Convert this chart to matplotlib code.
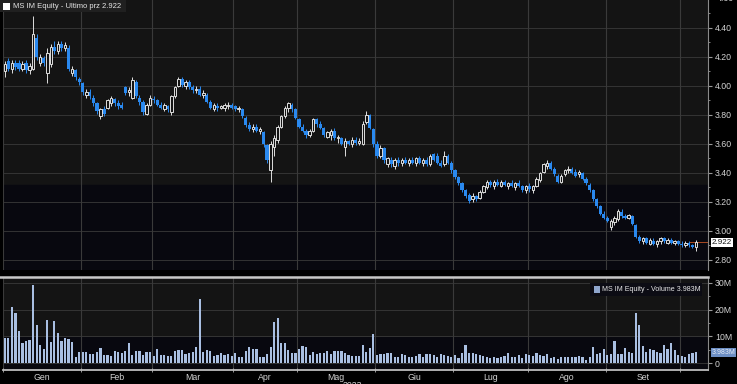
import numpy as np
import pandas as pd
import matplotlib
matplotlib.use('Agg')
import matplotlib.pyplot as plt
import matplotlib.transforms as mtransforms
from matplotlib.lines import Line2D
from matplotlib.patches import Rectangle

plt.rcParams['font.family'] = ['Liberation Sans', 'DejaVu Sans']

# MS IM Equity, daily candles Jan - early Oct 2023
months = ['Gen', 'Feb', 'Mar', 'Apr', 'Mag', 'Giu', 'Lug', 'Ago', 'Set']
holidays = ['2023-04-07', '2023-04-10', '2023-05-01', '2023-08-15']

opens = [4.10, 4.17, 4.12, 4.16, 4.16, 4.12, 4.16, 4.11, 4.12, 4.33,
         4.16, 4.19, 4.09, 4.15, 4.27, 4.24, 4.29, 4.26, 4.26, 4.09,
         4.11, 4.05, 4.02, 3.94, 3.96, 3.92, 3.88, 3.79, 3.84, 3.85,
         3.88, 3.91, 3.88, 3.87, 3.99, 3.96, 3.92, 4.03, 3.92, 3.89,
         3.81, 3.87, 3.91, 3.90, 3.87, 3.84, 3.86, 3.82, 3.93, 4.00,
         4.05, 4.00, 4.03, 3.99, 3.97, 3.98, 3.94, 3.94, 3.89, 3.84,
         3.86, 3.85, 3.85, 3.86, 3.87, 3.86, 3.84, 3.84, 3.78, 3.73,
         3.70, 3.72, 3.69, 3.68, 3.59, 3.42, 3.58, 3.63, 3.72, 3.79,
         3.85, 3.87, 3.84, 3.77, 3.72, 3.69, 3.66, 3.69, 3.77, 3.74,
         3.71, 3.65, 3.66, 3.69, 3.64, 3.64, 3.58, 3.62, 3.60, 3.63,
         3.61, 3.60, 3.75, 3.80, 3.70, 3.60, 3.52, 3.57, 3.46, 3.49,
         3.45, 3.49, 3.47, 3.49, 3.47, 3.49, 3.47, 3.50, 3.47, 3.49,
         3.46, 3.53, 3.52, 3.47, 3.46, 3.52, 3.47, 3.42, 3.37, 3.33,
         3.28, 3.25, 3.22, 3.24, 3.23, 3.27, 3.30, 3.34, 3.31, 3.34,
         3.31, 3.34, 3.31, 3.33, 3.30, 3.33, 3.31, 3.28, 3.31, 3.28,
         3.31, 3.35, 3.41, 3.45, 3.47, 3.43, 3.38, 3.34, 3.39, 3.42,
         3.43, 3.41, 3.39, 3.40, 3.36, 3.32, 3.28, 3.22, 3.17, 3.12,
         3.09, 3.03, 3.06, 3.08, 3.13, 3.10, 3.09, 3.10, 3.04, 2.96,
         2.93, 2.95, 2.91, 2.93, 2.91, 2.93, 2.95, 2.92, 2.94, 2.92,
         2.93, 2.91, 2.90, 2.92, 2.90, 2.89]

highs = [4.17, 4.19, 4.18, 4.18, 4.18, 4.17, 4.18, 4.16, 4.48, 4.36,
         4.22, 4.21, 4.26, 4.29, 4.31, 4.31, 4.31, 4.30, 4.28, 4.14,
         4.12, 4.06, 4.03, 3.98, 3.98, 3.94, 3.89, 3.85, 3.86, 3.91,
         3.93, 3.92, 3.90, 3.89, 4.00, 3.99, 4.06, 4.04, 3.94, 3.90,
         3.88, 3.94, 3.93, 3.91, 3.89, 3.88, 3.87, 3.94, 4.00, 4.06,
         4.06, 4.04, 4.04, 4.01, 4.00, 4.00, 3.97, 3.95, 3.90, 3.88,
         3.88, 3.87, 3.88, 3.89, 3.88, 3.87, 3.86, 3.85, 3.79, 3.75,
         3.74, 3.74, 3.72, 3.69, 3.60, 3.62, 3.66, 3.73, 3.80, 3.86,
         3.89, 3.88, 3.85, 3.78, 3.74, 3.70, 3.70, 3.78, 3.78, 3.76,
         3.72, 3.69, 3.70, 3.71, 3.66, 3.65, 3.64, 3.63, 3.65, 3.65,
         3.64, 3.76, 3.83, 3.81, 3.71, 3.62, 3.59, 3.58, 3.51, 3.51,
         3.50, 3.51, 3.50, 3.51, 3.50, 3.51, 3.51, 3.52, 3.50, 3.51,
         3.53, 3.54, 3.54, 3.49, 3.55, 3.53, 3.48, 3.43, 3.38, 3.34,
         3.29, 3.26, 3.26, 3.25, 3.28, 3.32, 3.35, 3.35, 3.35, 3.36,
         3.35, 3.35, 3.34, 3.35, 3.34, 3.35, 3.32, 3.32, 3.33, 3.32,
         3.37, 3.41, 3.47, 3.49, 3.48, 3.44, 3.39, 3.39, 3.43, 3.45,
         3.44, 3.43, 3.42, 3.41, 3.37, 3.33, 3.29, 3.23, 3.18, 3.14,
         3.10, 3.08, 3.10, 3.15, 3.15, 3.12, 3.12, 3.11, 3.05, 2.97,
         2.96, 2.96, 2.95, 2.95, 2.94, 2.96, 2.96, 2.95, 2.95, 2.94,
         2.94, 2.93, 2.93, 2.93, 2.91, 2.94]

lows = [4.06, 4.10, 4.09, 4.11, 4.10, 4.10, 4.09, 4.08, 4.11, 4.18,
        4.14, 4.14, 4.02, 4.13, 4.22, 4.22, 4.24, 4.24, 4.10, 4.07,
        4.04, 4.01, 3.94, 3.92, 3.91, 3.86, 3.81, 3.77, 3.79, 3.84,
        3.86, 3.86, 3.84, 3.84, 3.94, 3.93, 3.91, 3.92, 3.87, 3.80,
        3.80, 3.86, 3.88, 3.86, 3.84, 3.83, 3.82, 3.80, 3.92, 3.99,
        3.99, 3.98, 3.98, 3.95, 3.95, 3.93, 3.92, 3.88, 3.84, 3.83,
        3.83, 3.84, 3.83, 3.84, 3.84, 3.83, 3.82, 3.78, 3.72, 3.69,
        3.68, 3.68, 3.67, 3.58, 3.47, 3.34, 3.52, 3.61, 3.71, 3.78,
        3.82, 3.82, 3.77, 3.71, 3.68, 3.64, 3.65, 3.68, 3.72, 3.70,
        3.65, 3.64, 3.63, 3.63, 3.61, 3.59, 3.52, 3.59, 3.58, 3.59,
        3.59, 3.59, 3.74, 3.70, 3.58, 3.50, 3.50, 3.47, 3.44, 3.44,
        3.43, 3.45, 3.45, 3.46, 3.45, 3.46, 3.45, 3.46, 3.45, 3.45,
        3.45, 3.48, 3.46, 3.44, 3.45, 3.46, 3.40, 3.36, 3.32, 3.27,
        3.23, 3.19, 3.20, 3.21, 3.22, 3.26, 3.29, 3.30, 3.29, 3.31,
        3.30, 3.31, 3.29, 3.30, 3.28, 3.30, 3.27, 3.26, 3.27, 3.26,
        3.30, 3.34, 3.40, 3.43, 3.42, 3.38, 3.33, 3.33, 3.38, 3.40,
        3.39, 3.37, 3.37, 3.35, 3.32, 3.27, 3.21, 3.16, 3.11, 3.08,
        3.06, 3.01, 3.04, 3.07, 3.09, 3.08, 3.08, 3.04, 2.95, 2.92,
        2.91, 2.91, 2.90, 2.90, 2.89, 2.91, 2.92, 2.91, 2.91, 2.90,
        2.90, 2.89, 2.89, 2.89, 2.88, 2.86]

closes = [4.15, 4.12, 4.16, 4.13, 4.12, 4.15, 4.11, 4.14, 4.36, 4.20,
          4.20, 4.16, 4.23, 4.27, 4.24, 4.29, 4.26, 4.28, 4.12, 4.12,
          4.06, 4.03, 3.96, 3.96, 3.93, 3.88, 3.83, 3.84, 3.81, 3.90,
          3.92, 3.88, 3.86, 3.85, 3.95, 3.97, 4.04, 3.93, 3.89, 3.82,
          3.87, 3.92, 3.90, 3.87, 3.85, 3.87, 3.84, 3.93, 3.99, 4.05,
          4.01, 4.03, 3.99, 3.97, 3.98, 3.94, 3.95, 3.89, 3.85, 3.87,
          3.85, 3.86, 3.87, 3.87, 3.85, 3.84, 3.85, 3.79, 3.73, 3.70,
          3.72, 3.69, 3.70, 3.60, 3.49, 3.60, 3.64, 3.72, 3.79, 3.85,
          3.88, 3.84, 3.78, 3.72, 3.69, 3.66, 3.69, 3.77, 3.74, 3.71,
          3.66, 3.68, 3.69, 3.64, 3.65, 3.60, 3.62, 3.60, 3.63, 3.61,
          3.62, 3.74, 3.80, 3.71, 3.60, 3.52, 3.57, 3.49, 3.50, 3.46,
          3.49, 3.47, 3.49, 3.47, 3.49, 3.47, 3.50, 3.47, 3.49, 3.46,
          3.52, 3.49, 3.47, 3.45, 3.52, 3.47, 3.42, 3.37, 3.33, 3.28,
          3.24, 3.21, 3.24, 3.22, 3.27, 3.31, 3.34, 3.32, 3.34, 3.32,
          3.34, 3.32, 3.33, 3.31, 3.33, 3.31, 3.28, 3.31, 3.29, 3.31,
          3.36, 3.40, 3.46, 3.47, 3.43, 3.39, 3.34, 3.38, 3.42, 3.43,
          3.40, 3.38, 3.41, 3.36, 3.33, 3.28, 3.22, 3.17, 3.12, 3.09,
          3.07, 3.07, 3.09, 3.14, 3.10, 3.09, 3.11, 3.05, 2.96, 2.93,
          2.95, 2.92, 2.94, 2.91, 2.93, 2.95, 2.93, 2.94, 2.92, 2.93,
          2.91, 2.90, 2.92, 2.90, 2.89, 2.922]

# volume in millions of shares
volume = [9.2, 9.2, 21.1, 18.6, 12.1, 7.4, 8.2, 8.6, 29.0, 14.1,
          6.6, 5.2, 16.1, 8.0, 15.7, 11.1, 8.4, 9.2, 9.0, 8.0,
          2.1, 4.2, 4.2, 4.2, 3.2, 3.4, 4.1, 5.7, 3.1, 3.1,
          2.6, 4.4, 4.1, 3.6, 4.5, 7.4, 2.9, 4.6, 4.5, 2.9,
          4.1, 4.1, 2.8, 5.2, 3.1, 2.9, 2.6, 2.5, 4.6, 4.7,
          4.7, 3.2, 3.6, 4.1, 5.9, 24.1, 4.2, 4.9, 4.6, 2.6,
          3.1, 3.6, 2.9, 3.2, 2.6, 3.6, 2.4, 2.4, 4.6, 6.1,
          5.1, 5.1, 2.1, 2.2, 3.2, 5.9, 15.5, 16.7, 7.6, 7.6,
          4.9, 3.6, 3.6, 5.2, 6.4, 6.1, 2.9, 4.1, 3.4, 3.9,
          3.6, 4.6, 3.4, 4.4, 4.4, 4.4, 3.6, 3.1, 2.5, 2.5,
          2.5, 6.6, 4.2, 5.5, 10.7, 3.0, 3.4, 3.4, 3.9, 3.6,
          2.4, 2.1, 3.4, 3.0, 2.4, 2.1, 2.6, 3.4, 2.4,
          3.4, 3.4, 3.0, 2.1, 3.4, 3.0, 2.6, 2.1, 3.0, 1.8,
          3.6, 6.6, 3.6, 3.9, 3.4, 3.1, 2.6, 2.1, 2.0,
          2.1, 2.0, 2.1, 2.6, 3.9, 2.1, 2.1, 2.9, 2.0, 3.4,
          2.9, 2.6, 3.6, 3.0, 2.6, 3.4, 1.8, 2.4, 1.4, 2.4,
          2.1, 2.1, 2.4, 2.1, 2.6, 2.1, 1.1, 2.4, 6.1, 3.4,
          3.6, 5.2, 3.0, 3.4, 8.1, 3.4, 3.4, 5.5, 4.2, 3.6,
          18.6, 14.3, 6.4, 4.2, 5.2, 4.9, 4.2, 3.6, 6.6, 5.1,
          7.6, 4.9, 3.0, 2.7, 2.1, 3.4, 3.6, 3.983]

price_ticks = [2.80, 3.00, 3.20, 3.40, 3.60, 3.80, 4.00, 4.20, 4.40]
vol_ticks = [0, 10, 20, 30]
vol_labels = ['0', '10M', '20M', '30M']

# trading days on Borsa Italiana
days = pd.bdate_range('2023-01-02', '2023-10-06')
days = days[~days.isin(pd.to_datetime(holidays))]
x = np.arange(len(days))

o = np.array(opens)
h = np.array(highs)
l = np.array(lows)
c = np.array(closes)
v = np.array(volume)
up = c >= o

# month boundaries and label positions
month_no = days.month.values
starts = [x[month_no == m][0] for m in range(1, 11)]
centers = [x[month_no == m].mean() for m in range(1, 10)]

BLUE = '#2a89ef'
WHITE = '#dedede'
GRID = '#3a3a3a'
TXT = '#d2d2d2'
W, H = 737, 384

fig = plt.figure(figsize=(W / 100, H / 100), dpi=100, facecolor='black')
ax = fig.add_axes([3 / W, 1 - 270 / H, 705 / W, 270 / H])
axv = fig.add_axes([3 / W, 14 / H, 705 / W, 92 / H])

xmin, xmax = -0.5, 198.4

# price panel
ax.set_facecolor('#141414')
ax.axhspan(2.5, 3.317, color='#08080f', zorder=0)
for p in price_ticks:
    ax.axhline(p, color=GRID, lw=0.6, zorder=1)
for s in starts:
    ax.axvline(s - 0.5, color=GRID, lw=0.8, zorder=1)

ax.vlines(x[up], l[up], h[up], color=WHITE, lw=0.7, zorder=2)
ax.vlines(x[~up], l[~up], h[~up], color=BLUE, lw=0.7, zorder=2)
ax.bar(x[~up], (o - c)[~up], bottom=c[~up], width=0.9, color=BLUE, zorder=3)
ax.bar(x[up], np.maximum((c - o)[up], 0.006), bottom=o[up], width=0.7,
       facecolor='#141414', edgecolor=WHITE, lw=0.7, zorder=3)
ax.axhline(closes[-1], xmin=0.975, color='#a84a22', lw=0.7, zorder=1)

ax.set_xlim(xmin, xmax)
ax.set_ylim(2.731, 4.593)
ax.yaxis.tick_right()
ax.set_yticks(price_ticks)
ax.set_yticklabels(['%.2f' % p for p in price_ticks])
ax.set_yticks(np.arange(2.8, 4.6, 0.1), minor=True)
ax.tick_params(axis='y', which='major', colors='#9a9a9a', labelcolor=TXT,
               labelsize=6.3, length=3, width=0.8, pad=2)
ax.tick_params(axis='y', which='minor', colors='#9a9a9a', length=1.5, width=0.6)
ax.set_xticks([])
for side in ['top', 'left', 'bottom']:
    ax.spines[side].set_visible(False)
ax.spines['right'].set_color('#8a8a8a')
ax.spines['right'].set_linewidth(0.8)

tr = mtransforms.blended_transform_factory(ax.transAxes, ax.transData)
ax.text(1.012, 4.60, '4.60', transform=tr, fontsize=6.3, color=TXT,
        va='center', ha='left', clip_on=False)
ax.text(1.005, closes[-1], '%.3f' % closes[-1], transform=tr, fontsize=5.8,
        color='#111111', va='center', ha='left', clip_on=False,
        bbox=dict(boxstyle='square,pad=0.12', facecolor='white', edgecolor='none'))

# volume panel
axv.set_facecolor('#141414')
axv.axhspan(-5, 9.6, color='#08080f', zorder=0)
for t in vol_ticks:
    axv.axhline(t, color=GRID, lw=0.6, zorder=1)
for s in starts:
    axv.axvline(s - 0.5, color=GRID, lw=0.8, zorder=1)
axv.bar(x, v, width=0.62, color='#a9bfe2', zorder=3)

axv.set_xlim(xmin, xmax)
axv.set_ylim(-2.6, 31.8)
axv.yaxis.tick_right()
axv.set_yticks(vol_ticks)
axv.set_yticklabels(vol_labels)
axv.set_yticks([5, 15, 25], minor=True)
axv.tick_params(axis='y', which='major', colors='#9a9a9a', labelcolor=TXT,
                labelsize=6.3, length=3, width=0.8, pad=2)
axv.tick_params(axis='y', which='minor', colors='#9a9a9a', length=1.5, width=0.6)
axv.set_xticks(centers)
axv.set_xticklabels(months)
axv.set_xticks([s - 0.5 for s in starts], minor=True)
axv.tick_params(axis='x', which='major', length=0, labelsize=6.3, labelcolor=TXT, pad=2.5)
axv.tick_params(axis='x', which='minor', direction='inout', length=3, color='#b0b0b0')
for side in ['top', 'left']:
    axv.spines[side].set_visible(False)
axv.spines['right'].set_color('#8a8a8a')
axv.spines['right'].set_linewidth(0.8)
axv.spines['bottom'].set_color('#bdbdbd')
axv.spines['bottom'].set_linewidth(1.3)

trv = mtransforms.blended_transform_factory(axv.transAxes, axv.transData)
axv.text(1.005, volume[-1], '%.3fM' % volume[-1], transform=trv, fontsize=5,
         color='#e4ebf7', va='center', ha='left', clip_on=False,
         bbox=dict(boxstyle='square,pad=0.12', facecolor='#6d8fc4', edgecolor='none'))

# separator between the panels
fig.add_artist(Line2D([0, 708 / W], [1 - 276.5 / H] * 2, color='#c8c8c8', lw=1.8))

# legends
fig.add_artist(Rectangle((0, 1 - 12 / H), 126 / W, 12 / H, transform=fig.transFigure,
                         facecolor='#202020', edgecolor='none'))
fig.add_artist(Rectangle((3 / W, 1 - 9.5 / H), 7 / W, 7 / H, transform=fig.transFigure,
                         facecolor='white', edgecolor='none'))
fig.text(13 / W, 1 - 6 / H, 'MS IM Equity - Ultimo prz %.3f' % closes[-1],
         fontsize=5.5, color='#e6e6e6', va='center', ha='left')

fig.add_artist(Rectangle((590 / W, 1 - 296 / H), 112 / W, 13 / H, transform=fig.transFigure,
                         facecolor='#0c0c14', edgecolor='none'))
fig.add_artist(Rectangle((594 / W, 1 - 293 / H), 6 / W, 7 / H, transform=fig.transFigure,
                         facecolor='#8ea5cc', edgecolor='none'))
fig.text(602 / W, 1 - 289.5 / H, 'MS IM Equity - Volume %.3fM' % volume[-1],
         fontsize=5.1, color='#e6e6e6', va='center', ha='left')

fig.text(352 / W, 1 - 385 / H, '2023', fontsize=6.3, color=TXT, va='center', ha='center')

fig.savefig('out.png', dpi=100, facecolor='black')
